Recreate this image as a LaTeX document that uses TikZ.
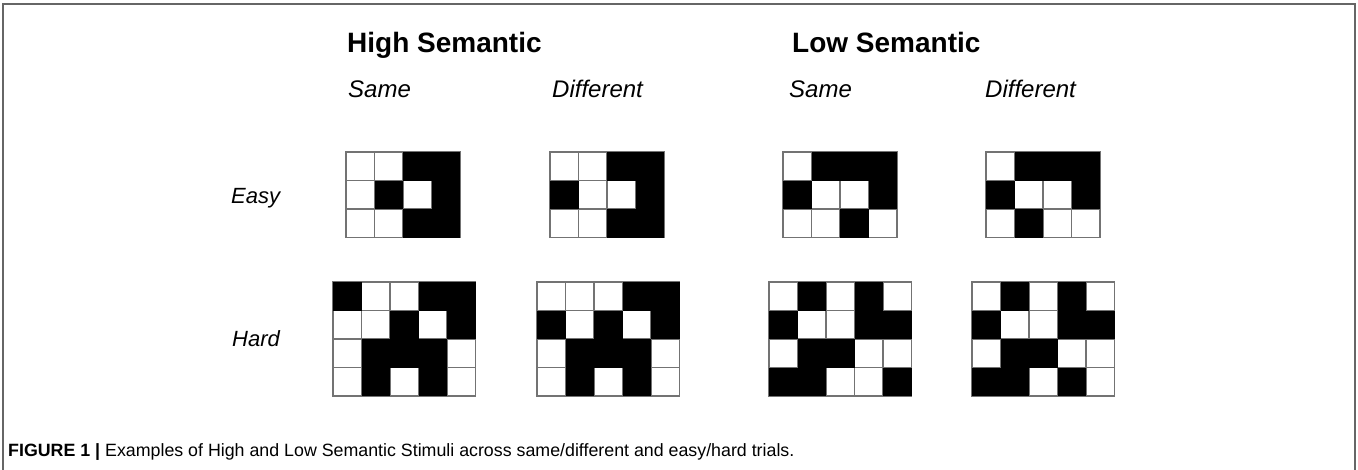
\documentclass[tikz,border=0pt]{standalone}
\usepackage{fontspec}
\setmainfont{Liberation Sans}

\def\cellsz{28.5}
% one stimulus: left x, top y, rows of 0 (white) / 1 (black)
\newcommand{\stimgrid}[3]{%
  \foreach \cells [count=\r] in {#3} {
    \foreach \v [count=\k] in \cells {
      \draw[cellline] ({#1+(\k-1)*\cellsz},{#2+(\r-1)*\cellsz}) rectangle ++(\cellsz,\cellsz);
    }
  }
  \foreach \cells [count=\r] in {#3} {
    \foreach \v [count=\k] in \cells {
      \ifnum\v=1 \fill[cellfill] ({#1+(\k-1)*\cellsz},{#2+(\r-1)*\cellsz}) rectangle ++(\cellsz,\cellsz);\fi
    }
  }
}

\begin{document}
\begin{tikzpicture}[
		x=1pt, y=-1pt,
		every node/.style={inner sep=0pt, anchor=base west},
		heading/.style={font=\fontsize{28}{32}\selectfont\bfseries},
		cond/.style={font=\fontsize{24}{28}\selectfont\itshape},
		level/.style={font=\fontsize{22}{26}\selectfont\itshape},
		capt/.style={font=\fontsize{17.8}{21}\selectfont},
		cellline/.style={draw=black!55, line width=1.2pt, fill=white},
		cellfill/.style={fill=black}
		]
		\useasboundingbox (0,0) rectangle (1358,469);
		
		% frame
		\draw[black!60, line width=1.5pt] (3,470) -- (3,4) -- (1355,4) -- (1355,470);
		
		% column headings
		\node[heading] (hisem) at (347,52) {High Semantic};
		\node[heading] (losem) at (792,52) {Low Semantic};
		\node[cond] (hisame) at (348,97) {Same};
		\node[cond] (hidiff) at (552,97) {Different};
		\node[cond] (losame) at (789,97) {Same};
		\node[cond] (lodiff) at (985,97) {Different};
		
		% row labels
		\node[level] (easy) at (231,203) {Easy};
		\node[level] (hard) at (232,346) {Hard};
		
		% Easy trials
		\stimgrid{346}{152}{{0,0,1,1},{0,1,0,1},{0,0,1,1}}
		\stimgrid{550}{152}{{0,0,1,1},{1,0,0,1},{0,0,1,1}}
		\stimgrid{783}{152}{{0,1,1,1},{1,0,0,1},{0,0,1,0}}
		\stimgrid{986}{152}{{0,1,1,1},{1,0,0,1},{0,1,0,0}}
		
		% Hard trials
		\stimgrid{333}{282}{{1,0,0,1,1},{0,0,1,0,1},{0,1,1,1,0},{0,1,0,1,0}}
		\stimgrid{537}{282}{{0,0,0,1,1},{1,0,1,0,1},{0,1,1,1,0},{0,1,0,1,0}}
		\stimgrid{769}{282}{{0,1,0,1,0},{1,0,0,1,1},{0,1,1,0,0},{1,1,0,0,1}}
		\stimgrid{972}{282}{{0,1,0,1,0},{1,0,0,1,1},{0,1,1,0,0},{1,1,0,1,0}}
		
		% caption
		\node[capt] (caption) at (8,456) {\textbf{FIGURE 1 |} Examples of High and Low Semantic Stimuli across same/different and easy/hard trials.};
		
	\end{tikzpicture}
\end{document}
